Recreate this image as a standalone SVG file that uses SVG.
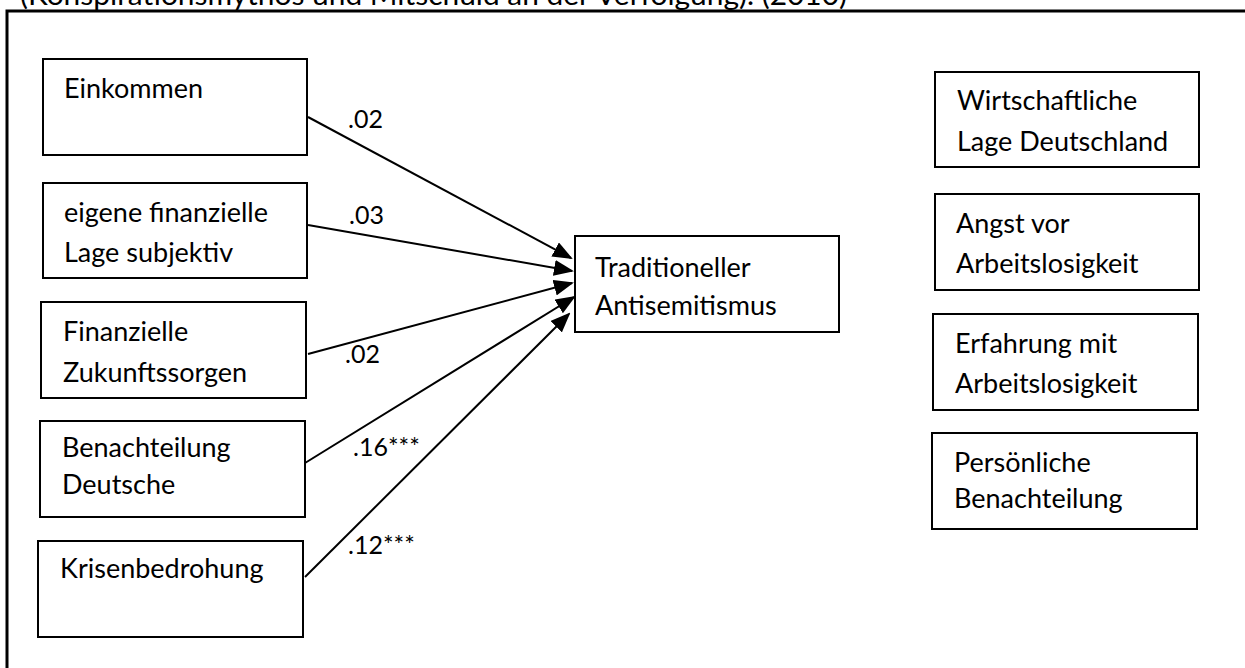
<svg xmlns="http://www.w3.org/2000/svg" width="1245" height="668" viewBox="0 0 1245 668">
<style>
  .box { fill: #fff; stroke: #000; stroke-width: 2; }
  .t { font-family: Lato, "Liberation Sans", sans-serif; font-size: 27px; fill: #000; }
  .lbl { font-family: Lato, "Liberation Sans", sans-serif; font-size: 25px; fill: #000; }
  .edge { stroke: #000; stroke-width: 2; fill: none; marker-end: url(#ah); }
</style>
<defs>
  <marker id="ah" markerWidth="10" markerHeight="8" refX="9" refY="4" orient="auto" markerUnits="strokeWidth">
    <path d="M0,0 L10,4 L0,8 Z" fill="#000"/>
  </marker>
</defs>
<rect width="1245" height="668" fill="#fff"/>
<text class="t" x="20" y="5" style="font-size:29px" textLength="827" lengthAdjust="spacingAndGlyphs">(Konspirationsmythos und Mitschuld an der Verfolgung). (2010)</text>
<rect x="7" y="11" width="1300" height="720" fill="none" stroke="#000" stroke-width="3"/>

<g id="connectors">
  <line class="edge" x1="308" y1="117" x2="571" y2="258"/>
  <line class="edge" x1="308" y1="225" x2="572" y2="271"/>
  <line class="edge" x1="308" y1="354" x2="572" y2="283"/>
  <line class="edge" x1="305" y1="463" x2="574" y2="297"/>
  <line class="edge" x1="305" y1="577" x2="569" y2="314"/>
  <text class="lbl" x="348" y="128">.02</text>
  <text class="lbl" x="349" y="224">.03</text>
  <text class="lbl" x="345" y="363">.02</text>
  <text class="lbl" x="353" y="456">.16***</text>
  <text class="lbl" x="348" y="554">.12***</text>
</g>

<g id="einkommen">
  <rect class="box" x="43" y="59" width="264" height="96"/>
  <text class="t" x="64" y="98">Einkommen</text>
</g>
<g id="finanzielle-lage">
  <rect class="box" x="43" y="183" width="264" height="95"/>
  <text class="t" x="64" y="222">eigene finanzielle</text>
  <text class="t" x="64" y="262">Lage subjektiv</text>
</g>
<g id="zukunftssorgen">
  <rect class="box" x="41" y="302" width="265" height="96"/>
  <text class="t" x="63" y="341">Finanzielle</text>
  <text class="t" x="63" y="382">Zukunftssorgen</text>
</g>
<g id="benachteilung-deutsche">
  <rect class="box" x="40" y="421" width="265" height="96"/>
  <text class="t" x="62" y="457">Benachteilung</text>
  <text class="t" x="62" y="494">Deutsche</text>
</g>
<g id="krisenbedrohung">
  <rect class="box" x="38" y="541" width="265" height="96"/>
  <text class="t" x="60" y="578">Krisenbedrohung</text>
</g>
<g id="antisemitismus">
  <rect class="box" x="575" y="236" width="264" height="96"/>
  <text class="t" x="595" y="277">Traditioneller</text>
  <text class="t" x="595" y="315">Antisemitismus</text>
</g>
<g id="wirtschaftliche-lage">
  <rect class="box" x="935" y="72" width="264" height="95"/>
  <text class="t" x="957" y="110">Wirtschaftliche</text>
  <text class="t" x="957" y="151">Lage Deutschland</text>
</g>
<g id="angst">
  <rect class="box" x="935" y="194" width="264" height="96"/>
  <text class="t" x="956" y="233">Angst vor</text>
  <text class="t" x="956" y="273">Arbeitslosigkeit</text>
</g>
<g id="erfahrung">
  <rect class="box" x="933" y="314" width="265" height="96"/>
  <text class="t" x="955" y="353">Erfahrung mit</text>
  <text class="t" x="955" y="393">Arbeitslosigkeit</text>
</g>
<g id="persoenliche">
  <rect class="box" x="932" y="433" width="265" height="96"/>
  <text class="t" x="954" y="472">Persönliche</text>
  <text class="t" x="954" y="508">Benachteilung</text>
</g>
</svg>
